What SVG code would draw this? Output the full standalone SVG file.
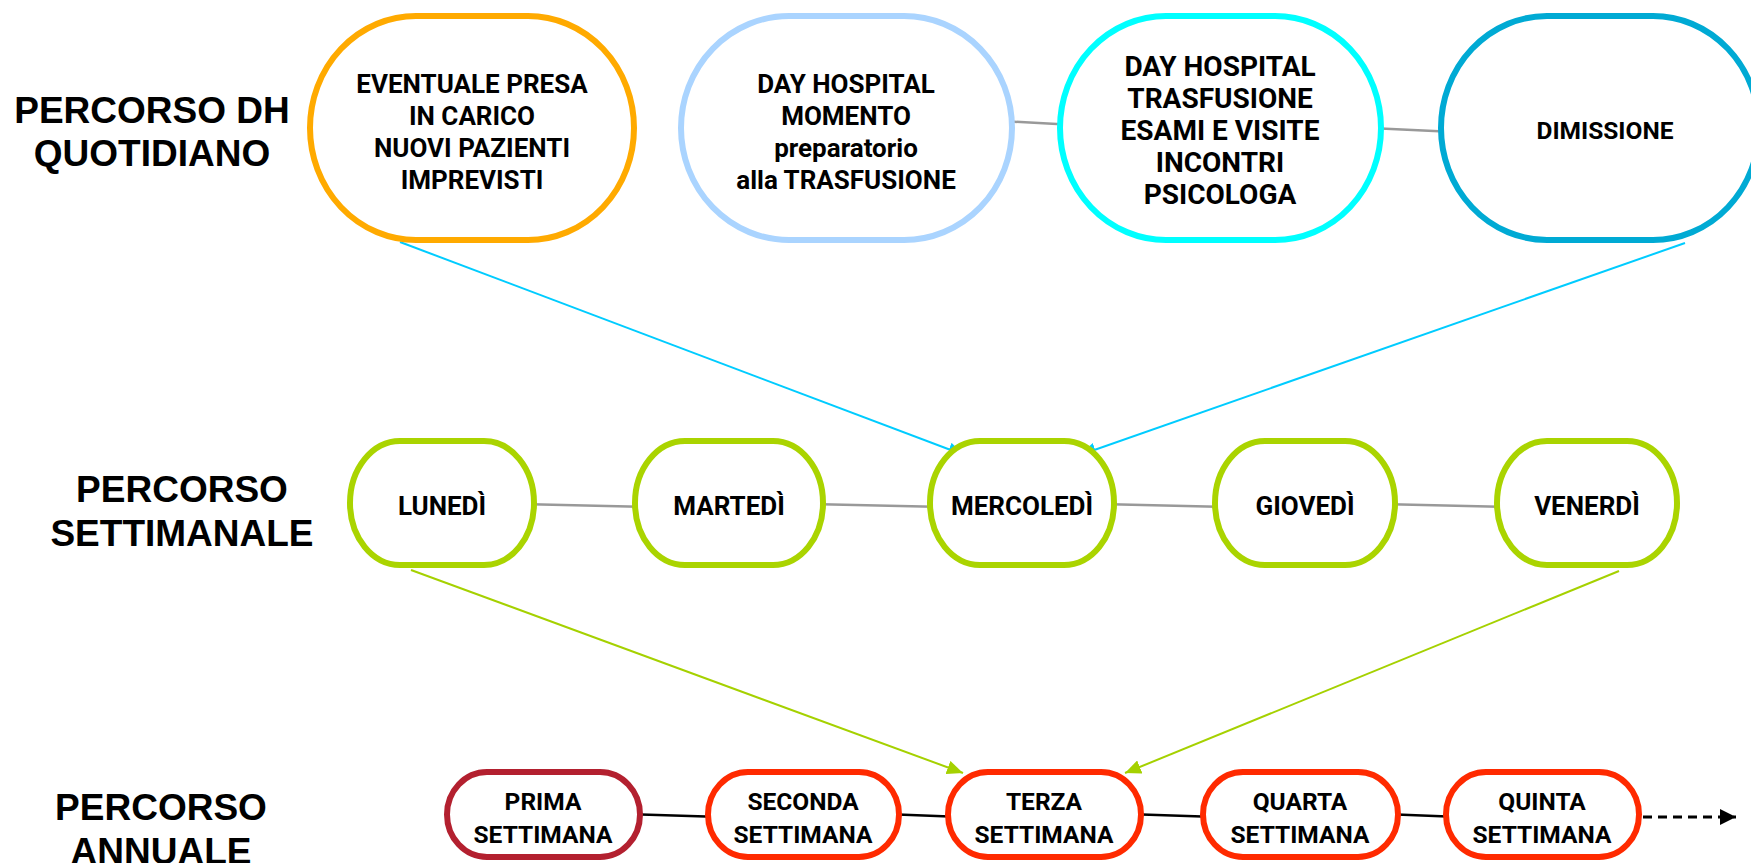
<svg xmlns="http://www.w3.org/2000/svg" width="1751" height="863" viewBox="0 0 1751 863">
  <defs>
    <style>
      .lbl { font-family: "Liberation Sans", Arial, sans-serif; font-weight: bold; font-size: 37px; fill: #000; text-anchor: middle; }
      .nt { font-family: Roboto, "Open Sans", sans-serif; font-weight: bold; font-size: 24.5px; fill: #000; text-anchor: middle; }
      .r1 { font-size: 26px; }
      .big { font-size: 28px; }
      .r2 { font-size: 26px; }
      .node { fill: #fff; stroke-width: 6; }
      .gray { stroke: #999999; stroke-width: 2.5; fill: none; }
      .blk { stroke: #000; stroke-width: 2.5; fill: none; }
      .cy { stroke: #00CCFF; stroke-width: 2; fill: none; }
      .gr { stroke: #A5D100; stroke-width: 2; fill: none; }
    </style>
    <marker id="aCy" markerUnits="userSpaceOnUse" markerWidth="16" markerHeight="14" refX="16" refY="7" orient="auto">
      <path d="M0,0 L16,7 L0,14 Z" fill="#00CCFF"/>
    </marker>
    <marker id="aGr" markerUnits="userSpaceOnUse" markerWidth="16" markerHeight="14" refX="16" refY="7" orient="auto">
      <path d="M0,0 L16,7 L0,14 Z" fill="#A5D100"/>
    </marker>
    <marker id="aBk" markerUnits="userSpaceOnUse" markerWidth="16" markerHeight="16" refX="16" refY="8" orient="auto">
      <path d="M0,0 L16,8 L0,16 Z" fill="#000"/>
    </marker>
  </defs>
  <rect x="0" y="0" width="1751" height="863" fill="#fff"/>

  <!-- row labels -->
  <g id="label-quotidiano">
    <text class="lbl" x="152" y="123">PERCORSO DH</text>
    <text class="lbl" x="152" y="166">QUOTIDIANO</text>
  </g>
  <g id="label-settimanale">
    <text class="lbl" x="182" y="502">PERCORSO</text>
    <text class="lbl" x="182" y="546">SETTIMANALE</text>
  </g>
  <g id="label-annuale">
    <text class="lbl" x="161" y="820">PERCORSO</text>
    <text class="lbl" x="161" y="864">ANNUALE</text>
  </g>

  <!-- connectors -->
  <g id="connectors">
    <line class="gray" x1="1000" y1="121" x2="1075" y2="125"/>
    <line class="gray" x1="1370" y1="128" x2="1455" y2="132"/>
    <line class="gray" x1="520" y1="504" x2="650" y2="507"/>
    <line class="gray" x1="810" y1="504" x2="945" y2="507"/>
    <line class="gray" x1="1100" y1="504" x2="1228" y2="507"/>
    <line class="gray" x1="1380" y1="504" x2="1510" y2="507"/>
    <line class="blk" x1="625" y1="814" x2="722" y2="817"/>
    <line class="blk" x1="885" y1="814" x2="962" y2="817"/>
    <line class="blk" x1="1127" y1="814" x2="1217" y2="817"/>
    <line class="blk" x1="1384" y1="814" x2="1460" y2="817"/>
    <line stroke="#000" stroke-width="3" stroke-dasharray="9,6" x1="1643" y1="817" x2="1736" y2="817" marker-end="url(#aBk)"/>
    <line class="cy" x1="400" y1="242" x2="964" y2="455" marker-end="url(#aCy)"/>
    <line class="cy" x1="1685" y1="243" x2="1080" y2="455" marker-end="url(#aCy)"/>
    <line class="gr" x1="411" y1="570" x2="963" y2="773" marker-end="url(#aGr)"/>
    <line class="gr" x1="1619" y1="571" x2="1125" y2="773" marker-end="url(#aGr)"/>
  </g>

  <!-- row 1 -->
  <g id="n-eventuale">
    <rect class="node" x="310" y="16" width="324" height="224" rx="106" ry="112" stroke="#FFAA00"/>
    <text class="nt r1" x="472" y="93">EVENTUALE PRESA</text>
    <text class="nt r1" x="472" y="125">IN CARICO</text>
    <text class="nt r1" x="472" y="157">NUOVI PAZIENTI</text>
    <text class="nt r1" x="472" y="189">IMPREVISTI</text>
  </g>
  <g id="n-momento">
    <rect class="node" x="681" y="16" width="331" height="224" rx="108" ry="112" stroke="#AAD4FF"/>
    <text class="nt r1" x="846" y="93">DAY HOSPITAL</text>
    <text class="nt r1" x="846" y="125">MOMENTO</text>
    <text class="nt r1" x="846" y="157">preparatorio</text>
    <text class="nt r1" x="846" y="189">alla TRASFUSIONE</text>
  </g>
  <g id="n-trasfusione">
    <rect class="node" x="1060" y="16" width="321" height="224" rx="106" ry="112" stroke="#00FFFF"/>
    <text class="nt big" x="1220" y="76">DAY HOSPITAL</text>
    <text class="nt big" x="1220" y="108">TRASFUSIONE</text>
    <text class="nt big" x="1220" y="140">ESAMI E VISITE</text>
    <text class="nt big" x="1220" y="172">INCONTRI</text>
    <text class="nt big" x="1220" y="204">PSICOLOGA</text>
  </g>
  <g id="n-dimissione">
    <rect class="node" x="1441" y="16" width="318" height="224" rx="106" ry="112" stroke="#00AAD4"/>
    <text class="nt" x="1605" y="139">DIMISSIONE</text>
  </g>

  <!-- row 2 -->
  <g id="n-lunedi">
    <rect class="node" x="350" y="441" width="184" height="124" rx="50" ry="62" stroke="#AAD400"/>
    <text class="nt r2" x="442" y="515">LUNEDÌ</text>
  </g>
  <g id="n-martedi">
    <rect class="node" x="635" y="441" width="188" height="124" rx="50" ry="62" stroke="#AAD400"/>
    <text class="nt r2" x="729" y="515">MARTEDÌ</text>
  </g>
  <g id="n-mercoledi">
    <rect class="node" x="930" y="441" width="184" height="124" rx="50" ry="62" stroke="#AAD400"/>
    <text class="nt r2" x="1022" y="515">MERCOLEDÌ</text>
  </g>
  <g id="n-giovedi">
    <rect class="node" x="1215" y="441" width="180" height="124" rx="50" ry="62" stroke="#AAD400"/>
    <text class="nt r2" x="1305" y="515">GIOVEDÌ</text>
  </g>
  <g id="n-venerdi">
    <rect class="node" x="1497" y="441" width="180" height="124" rx="50" ry="62" stroke="#AAD400"/>
    <text class="nt r2" x="1587" y="515">VENERDÌ</text>
  </g>

  <!-- row 3 -->
  <g id="n-prima">
    <rect class="node" x="447" y="772" width="193" height="85" rx="40" ry="42.5" stroke="#B3202F"/>
    <text class="nt" x="543" y="810">PRIMA</text>
    <text class="nt" x="543" y="843">SETTIMANA</text>
  </g>
  <g id="n-seconda">
    <rect class="node" x="708" y="772" width="191" height="85" rx="40" ry="42.5" stroke="#FF2A00"/>
    <text class="nt" x="803" y="810">SECONDA</text>
    <text class="nt" x="803" y="843">SETTIMANA</text>
  </g>
  <g id="n-terza">
    <rect class="node" x="948" y="772" width="193" height="85" rx="40" ry="42.5" stroke="#FF2A00"/>
    <text class="nt" x="1044" y="810">TERZA</text>
    <text class="nt" x="1044" y="843">SETTIMANA</text>
  </g>
  <g id="n-quarta">
    <rect class="node" x="1203" y="772" width="195" height="85" rx="40" ry="42.5" stroke="#FF2A00"/>
    <text class="nt" x="1300" y="810">QUARTA</text>
    <text class="nt" x="1300" y="843">SETTIMANA</text>
  </g>
  <g id="n-quinta">
    <rect class="node" x="1446" y="772" width="193" height="85" rx="40" ry="42.5" stroke="#FF2A00"/>
    <text class="nt" x="1542" y="810">QUINTA</text>
    <text class="nt" x="1542" y="843">SETTIMANA</text>
  </g>
</svg>
